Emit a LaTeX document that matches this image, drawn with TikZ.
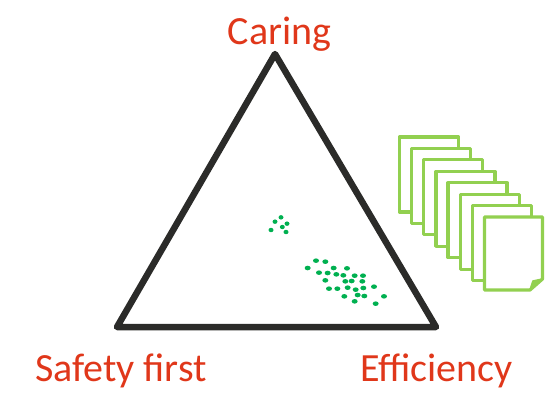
\documentclass[tikz,border=0pt]{standalone}
\usepackage{fontspec}
\setmainfont{Carlito}
\definecolor{lbl}{HTML}{E0371A}
\definecolor{tri}{HTML}{2B2B29}
\definecolor{dotc}{HTML}{00B050}
\definecolor{pagec}{HTML}{92D050}
\tikzset{
  lab/.style={font=\fontsize{40}{40}\selectfont,text=lbl,inner sep=0pt,anchor=base},
  triline/.style={draw=tri,line width=6.5pt,line join=round,line cap=round},
  dotm/.style={fill=dotc,draw=none},
  sheet/.style={draw=pagec,fill=white,line width=3.2pt,line join=round}
}
\begin{document}
\begin{tikzpicture}[x=1pt,y=-1pt]
\useasboundingbox (0,0) rectangle (550,392);
\coordinate (apex) at (275,54);
\coordinate (lft) at (117,327);
\coordinate (rgt) at (436,327);
\draw[triline] (apex) -- (lft) -- (rgt) -- cycle;
\node[lab] (caring) at (279.5,44) {Caring};
\node[lab] (safety) at (121,381) {Safety first};
\node[lab] (eff) at (436.5,381) {Efficiency};
% small cluster
\foreach \zx/\zy in {93/52,75/65,111/71,97/81,63/90,108/96}
  \fill[dotm] ({250+\zx/3},{200+\zy/3}) ellipse [x radius=2.5,y radius=2.2];
% large cluster
\foreach \zx/\zy in {198/182,226/185,173/204,251/204,291/205,207/218,233/219,259/223,280/226,314/227,339/227,226/241,286/244,305/243,337/244,372/260,237/266,262/266,293/263,317/269,340/264,323/285,283/289,343/288,402/289,314/304,377/311}
  \fill[dotm] ({250+\zx/3},{200+\zy/3}) ellipse [x radius=3,y radius=2.3];
% pages
\foreach \i in {0,...,6}
  \draw[sheet] ({399.5+12.14*\i},{137+11.43*\i}) rectangle ({458.5+12.14*\i},{212+11.43*\i});
\coordinate (pa) at (484.5,217);
\coordinate (pb) at (542.5,217);
\coordinate (pc) at (542.5,279);
\coordinate (pd) at (530,290);
\coordinate (pe) at (484.5,290);
\draw[sheet] (pa) -- (pb) -- (pc) -- (pd) -- (pe) -- cycle;
\fill[pagec] (pc) -- (533,281) -- (530,290) -- cycle;
\draw[pagec,line width=1.6pt,line join=round] (pc) -- (533,281) -- (pd);
\end{tikzpicture}
\end{document}
